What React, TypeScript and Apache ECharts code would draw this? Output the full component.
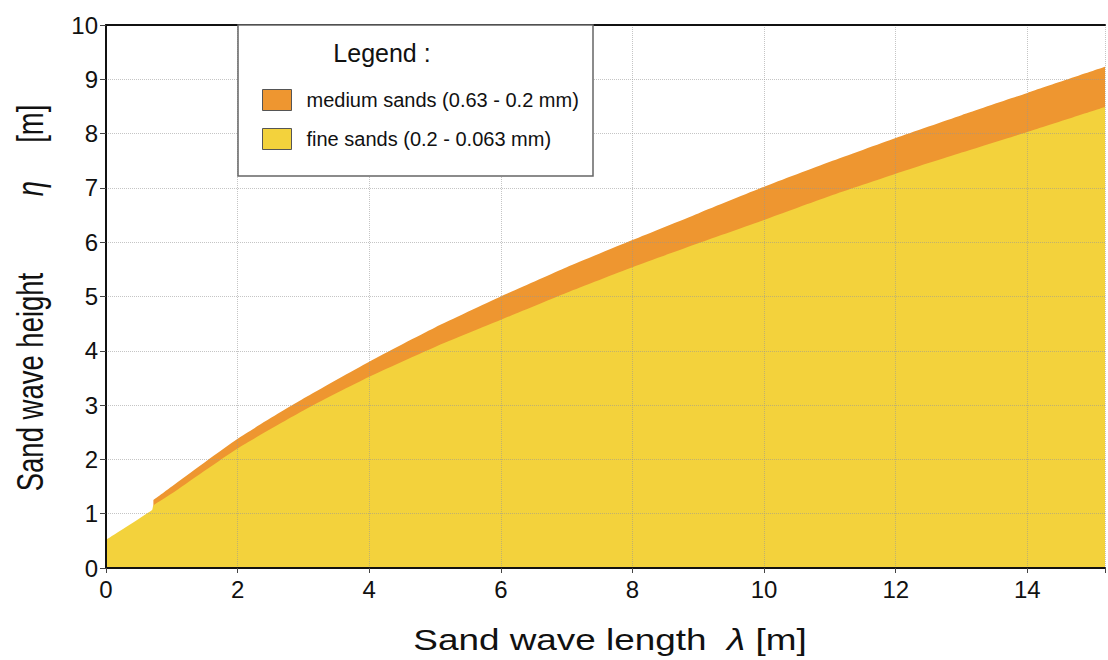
import React, { useEffect, useRef } from "react";
import * as echarts from "echarts";

const mediumName = "medium sands (0.63 - 0.2 mm)";
const fineName = "fine sands (0.2 - 0.063 mm)";

const mediumLength = [0.72, 1, 2, 3, 4, 5, 6, 7, 8, 9, 10, 11, 12, 13, 14, 15.18];
const mediumHeight = [1.25, 1.5, 2.38, 3.12, 3.8, 4.43, 5.0, 5.54, 6.04, 6.53, 7.02, 7.48, 7.92, 8.34, 8.75, 9.23];

const fineLength = [0, 0.7, 0.72, 1, 2, 3, 4, 5, 6, 7, 8, 9, 10, 11, 12, 13, 14, 15.18];
const fineHeight = [0.52, 1.07, 1.15, 1.37, 2.2, 2.9, 3.52, 4.07, 4.57, 5.07, 5.54, 5.98, 6.41, 6.85, 7.26, 7.65, 8.03, 8.49];

const FONT = "Liberation Sans, Arial, sans-serif";
const ORANGE = "#EE9630";
const YELLOW = "#F3D23C";

export default function App() {
  const ref = useRef<HTMLDivElement>(null);
  useEffect(() => {
    if (!ref.current) return;
    const chart = echarts.init(ref.current, undefined, { renderer: "svg" });
    const zip = (xs: number[], ys: number[]) => xs.map((x, i) => [x, ys[i]]);
    chart.setOption({
      animation: false,
      backgroundColor: "#fff",
      textStyle: { fontFamily: FONT },
      grid: { left: 106, right: 0, top: 25, bottom: 92 },
      xAxis: [
        {
          type: "value",
          min: 0,
          max: 15.18,
          interval: 2,
          axisLine: { show: true, lineStyle: { color: "#111", width: 2 } },
          axisTick: { show: true, length: 5, lineStyle: { color: "#444" } },
          axisLabel: {
            fontSize: 24,
            color: "#111",
            margin: 9,
            fontFamily: FONT,
            formatter: (v: number) => (Math.abs(v % 2) < 1e-9 ? String(v) : ""),
          },
          splitLine: { show: true, lineStyle: { type: "dotted", color: "rgba(150,150,150,0.55)", width: 1 } },
        },
        {
          type: "value",
          position: "top",
          min: 0,
          max: 15.18,
          axisLine: { show: true, onZero: false, lineStyle: { color: "#111", width: 2 } },
          axisTick: { show: false },
          axisLabel: { show: false },
          splitLine: { show: false },
        },
      ],
      yAxis: {
        type: "value",
        min: 0,
        max: 10,
        interval: 1,
        axisLine: { show: true, lineStyle: { color: "#111", width: 2 } },
        axisTick: { show: true, length: 6, lineStyle: { color: "#444" } },
        axisLabel: { fontSize: 24, color: "#111", margin: 8, fontFamily: FONT },
        splitLine: { show: true, lineStyle: { type: "dotted", color: "rgba(150,150,150,0.55)", width: 1 } },
      },
      legend: {
        orient: "vertical",
        left: 257,
        top: 84,
        z: 20,
        itemWidth: 29,
        itemHeight: 21,
        itemGap: 17,
        icon: "rect",
        data: [mediumName, fineName],
        itemStyle: { borderColor: "#555", borderWidth: 1 },
        textStyle: { fontSize: 20, color: "#111", fontFamily: FONT, padding: [0, 0, 0, 10] },
      },
      graphic: [
        {
          type: "rect",
          z: 10,
          shape: { x: 238, y: 25, width: 355, height: 151 },
          style: { fill: "#fff", stroke: "#666", lineWidth: 1.5 },
        },
        {
          type: "text",
          z: 11,
          x: 382,
          y: 53,
          style: {
            text: "Legend :",
            fontSize: 25,
            fontFamily: FONT,
            fill: "#111",
            align: "center",
            verticalAlign: "middle",
          },
        },
        {
          type: "text",
          z: 11,
          x: 610,
          y: 640,
          scaleX: 1.23,
          style: {
            text: "Sand wave length  {i|λ} [m]",
            fontSize: 30,
            fontFamily: FONT,
            fill: "#111",
            align: "center",
            verticalAlign: "middle",
            rich: { i: { fontStyle: "italic", fontSize: 30, fontFamily: FONT, fill: "#111" } },
          },
        },
        {
          type: "text",
          z: 11,
          x: 31,
          y: 298,
          rotation: Math.PI / 2,
          scaleY: 1.34,
          style: {
            text: "Sand wave height          {i|η}     [m]",
            fontSize: 27.5,
            fontFamily: FONT,
            fill: "#111",
            align: "center",
            verticalAlign: "middle",
            rich: { i: { fontStyle: "italic", fontSize: 27.5, fontFamily: FONT, fill: "#111" } },
          },
        },
      ],
      series: [
        {
          name: mediumName,
          type: "line",
          xAxisIndex: 0,
          z: -2,
          data: zip(mediumLength, mediumHeight),
          showSymbol: false,
          smooth: 0.2,
          color: ORANGE,
          lineStyle: { width: 0, color: ORANGE },
          areaStyle: { color: ORANGE, opacity: 1 },
          itemStyle: { color: ORANGE },
        },
        {
          name: fineName,
          type: "line",
          xAxisIndex: 0,
          z: -1,
          data: zip(fineLength, fineHeight),
          showSymbol: false,
          smooth: 0.2,
          color: YELLOW,
          lineStyle: { width: 0, color: YELLOW },
          areaStyle: { color: YELLOW, opacity: 1 },
          itemStyle: { color: YELLOW },
        },
      ],
    });
    return () => chart.dispose();
  }, []);
  return (
    <div
      ref={ref}
      style={{ position: "absolute", left: 0, top: 0, width: 1108, height: 660 }}
    />
  );
}
